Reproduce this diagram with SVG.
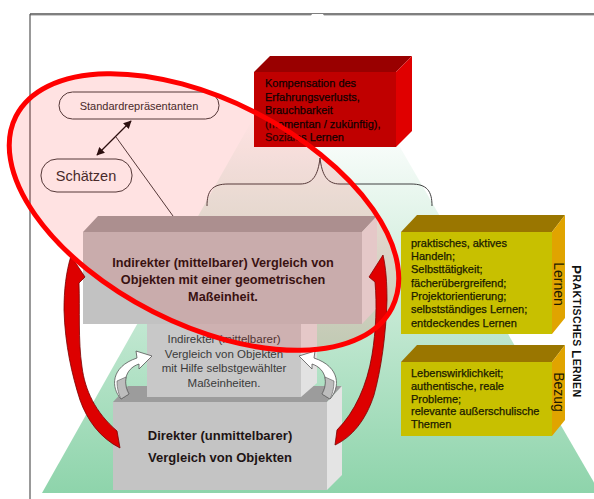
<svg xmlns="http://www.w3.org/2000/svg" width="594" height="499" viewBox="0 0 594 499">
<style>
text{font-family:"Liberation Sans",Arial,sans-serif}
.t11{font-size:11px;fill:#100000;stroke:#100000;stroke-width:0.25}
.ty{font-size:11px;fill:#1a1a00;stroke:#1a1a00;stroke-width:0.25}
.bb{font-weight:bold;fill:#1e1414}
.mid{font-size:11.5px;fill:#3a3a3a;text-anchor:middle}
.gl{stroke:#404040;stroke-width:1;fill:none}
.red{fill:#dd0000;stroke:#7a0000;stroke-width:0.8}
.wht{fill:#ffffff;stroke:#555;stroke-width:0.8}
</style>
<defs>
<linearGradient id="grn" gradientUnits="userSpaceOnUse" x1="0" y1="120" x2="0" y2="493">
<stop offset="0" stop-color="#ffffff"/>
<stop offset="1" stop-color="#8ed4ab"/>
</linearGradient>
<marker id="ah" viewBox="0 0 10 10" refX="9" refY="5" markerWidth="8" markerHeight="8" orient="auto-start-reverse" markerUnits="userSpaceOnUse">
<path d="M0,0 L10,5 L0,10 Z" fill="#111"/>
</marker>
</defs>
<rect width="594" height="499" fill="#ffffff"/>
<g id="frame">
<line x1="30" y1="14" x2="594" y2="14" stroke="#555" stroke-width="1.5"/>
<line x1="30" y1="15.5" x2="594" y2="15.5" stroke="#ccc" stroke-width="1"/>
<line x1="30" y1="14" x2="30" y2="499" stroke="#555" stroke-width="1.2"/>
</g>
<polygon id="pyramid" points="312,14 323,14 600,493 42,493" fill="url(#grn)"/>
<g id="kompensation">
<polygon points="254,72 270,56 412,56 396,72" fill="#990000"/>
<polygon points="396,72 412,56 412,131 396,147" fill="#e00000"/>
<rect x="254" y="72" width="142" height="75" fill="#c00000"/>
<text class="t11" x="265" y="87">Kompensation des</text>
<text class="t11" x="265" y="100.5">Erfahrungsverlusts,</text>
<text class="t11" x="265" y="114">Brauchbarkeit</text>
<text class="t11" x="265" y="127.5">(momentan / zukünftig),</text>
<text class="t11" x="265" y="141">Soziales Lernen</text>
</g>
<g id="connectors">
<path class="gl" d="M207,206 C207,191 212,184 228,184 L300,184 C313,184 318,175 320,158 C322,175 327,184 340,184 L411,184 C427,184 432,191 432,206"/>
<line class="gl" x1="116" y1="137" x2="173" y2="216"/>
<line x1="131" y1="121" x2="97" y2="155" stroke="#111" stroke-width="1.2" marker-start="url(#ah)" marker-end="url(#ah)"/>
</g>
<g id="direkter">
<polygon points="113,402 128,386 342,386 327,402" fill="#9c9c9c"/>
<polygon points="327,402 342,386 342,475 327,490" fill="#e4e4e4"/>
<rect x="113" y="402" width="214" height="88" fill="#c4c4c4"/>
<text class="bb" font-size="13" x="220" y="440" text-anchor="middle">Direkter (unmittelbarer)</text>
<text class="bb" font-size="13" x="220" y="462" text-anchor="middle">Vergleich von Objekten</text>
</g>
<g id="indirekter-selbst">
<polygon points="301,310 317,296 317,383 301,397" fill="#e2e2e2"/>
<rect x="147" y="310" width="154" height="87" fill="#c8c8c8"/>
<text class="mid" x="224" y="343">Indirekter (mittelbarer)</text>
<text class="mid" x="224" y="357.5">Vergleich von Objekten</text>
<text class="mid" x="224" y="372">mit Hilfe selbstgewählter</text>
<text class="mid" x="224" y="386.5">Maßeinheiten.</text>
</g>
<g id="indirekter-geom">
<polygon points="83,232 98,216 377,216 362,232" fill="#a2a2a2"/>
<polygon points="362,232 377,216 377,308 362,324" fill="#e2e2e2"/>
<rect x="83" y="232" width="279" height="92" fill="#c2c2c2"/>
<text class="bb" font-size="12.7" x="223" y="266.5" text-anchor="middle">Indirekter (mittelbarer) Vergleich von</text>
<text class="bb" font-size="12.7" x="223" y="283.5" text-anchor="middle">Objekten mit einer geometrischen</text>
<text class="bb" font-size="12.7" x="223" y="300.5" text-anchor="middle">Maßeinheit.</text>
</g>
<g id="arrows">
<path class="wht" d="M121,399 C111,388 110,367 137,358 L136,351 L152,356 L139,369 L139,364 C124,369 123,384 129,394 Z"/>
<path d="M117,381 C117,389 119,395 121,399 L129,394 C126,389 125,384 126,377 Z" fill="#bdbdbd" stroke="#555" stroke-width="0.6"/>
<g transform="translate(451,0) scale(-1,1)">
<path class="wht" d="M121,399 C111,388 110,367 137,358 L136,351 L152,356 L139,369 L139,364 C124,369 123,384 129,394 Z"/>
<path d="M117,381 C117,389 119,395 121,399 L129,394 C126,389 125,384 126,377 Z" fill="#bdbdbd" stroke="#555" stroke-width="0.6"/>
</g>
<path class="red" d="M71,256 L85,277 L79,283 C80,310 78,340 82,367 C85,390 95,412 117,431 L120,448 C100,438 87,420 80,400 C72,375 65,345 64,310 C64,290 66,272 71,256 Z"/>
<path class="red" d="M383,255 L369,277 L375,282 C377,305 376,330 372,355 C367,385 355,412 337,430 L335,445 C352,437 366,420 374,395 C381,370 386,335 387,300 C387,283 386,268 383,255 Z"/>
</g>
<g id="lernen">
<polygon points="401,232 417,215 565,215 552,232" fill="#9a7600"/>
<polygon points="552,232 565,215 565,318 552,334" fill="#e0a400"/>
<rect x="401" y="232" width="151" height="102" fill="#c8c000"/>
<text class="ty" x="411" y="246.7">praktisches, aktives</text>
<text class="ty" x="411" y="260">Handeln;</text>
<text class="ty" x="411" y="273.3">Selbsttätigkeit;</text>
<text class="ty" x="411" y="286.6">fächerübergreifend;</text>
<text class="ty" x="411" y="299.9">Projektorientierung;</text>
<text class="ty" x="411" y="313.2">selbstständiges Lernen;</text>
<text class="ty" x="411" y="326.5">entdeckendes Lernen</text>
<text transform="translate(559,284) rotate(90)" font-size="14" fill="#1a1a00" text-anchor="middle" dominant-baseline="central">Lernen</text>
</g>
<g id="bezug">
<polygon points="401,362 417,345 565,345 552,362" fill="#9a7600"/>
<polygon points="552,362 565,345 565,420 552,436" fill="#e0a400"/>
<rect x="401" y="362" width="151" height="74" fill="#c8c000"/>
<text class="ty" x="411" y="376.7">Lebenswirklichkeit;</text>
<text class="ty" x="411" y="389.6">authentische, reale</text>
<text class="ty" x="411" y="402.5">Probleme;</text>
<text class="ty" x="411" y="415.4">relevante außerschulische</text>
<text class="ty" x="411" y="428.3">Themen</text>
<text transform="translate(559,392) rotate(90)" font-size="14" fill="#1a1a00" text-anchor="middle" dominant-baseline="central">Bezug</text>
</g>
<g id="praktisches-lernen">
<text transform="translate(577,331) rotate(90)" font-weight="bold" fill="#111" text-anchor="middle" dominant-baseline="central" textLength="132" lengthAdjust="spacing"><tspan font-size="13.5">P</tspan><tspan font-size="10.5">RAKTISCHES </tspan><tspan font-size="13.5">L</tspan><tspan font-size="10.5">ERNEN</tspan></text>
</g>
<g id="standardrepraesentanten">
<rect x="59" y="92" width="160" height="27" rx="13.5" fill="none" stroke="#404040" stroke-width="1"/>
<text x="139" y="110" font-size="11" fill="#303030" text-anchor="middle">Standardrepräsentanten</text>
</g>
<g id="schaetzen">
<rect x="41" y="159" width="91" height="33" rx="16" fill="none" stroke="#404040" stroke-width="1"/>
<text x="86" y="181" font-size="14.5" fill="#303030" text-anchor="middle">Schätzen</text>
</g>
<ellipse id="focus" cx="204" cy="212" rx="211" ry="112" transform="rotate(27 204 212)" fill="#ff0000" fill-opacity="0.115" stroke="#ff0000" stroke-width="5"/>
</svg>
